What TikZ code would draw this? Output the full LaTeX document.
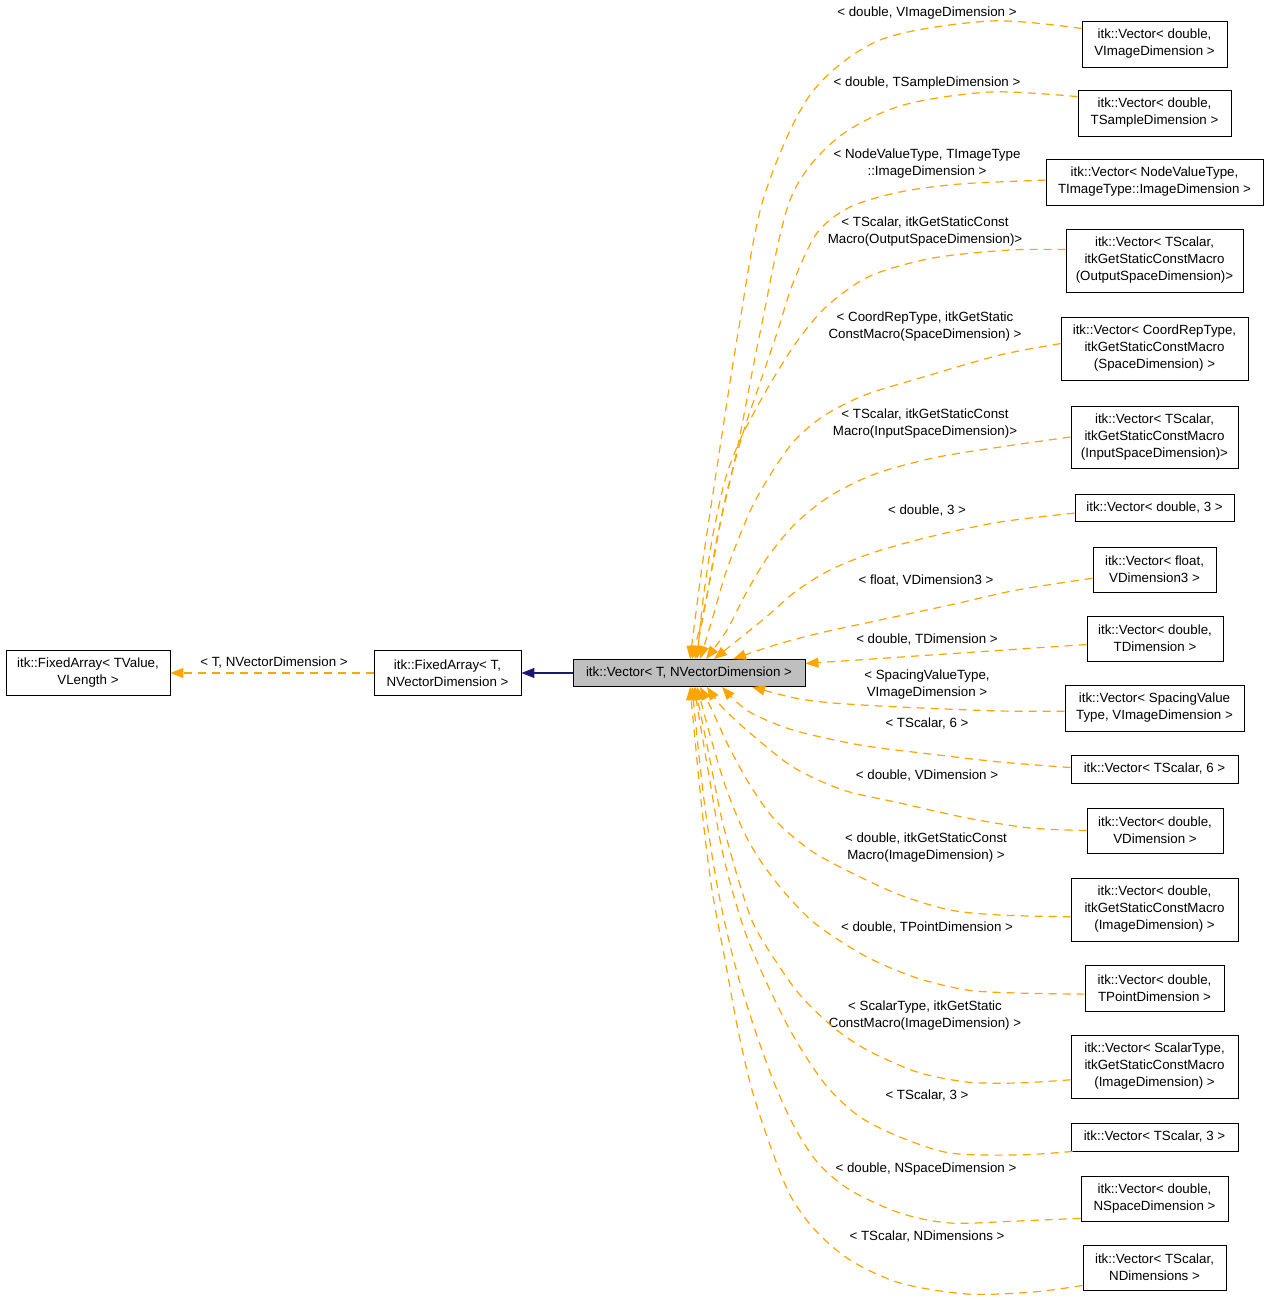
\documentclass[tikz,border=0pt]{standalone}
\usepackage{fontspec}
\setmainfont{Liberation Sans}
\usetikzlibrary{arrows.meta}
\definecolor{edgeorange}{HTML}{FFA500}
\definecolor{inhblue}{HTML}{191970}
\definecolor{focusgray}{HTML}{BFBFBF}
\begin{document}
\begin{tikzpicture}[x=1pt,y=-1pt,
  every node/.style={font=\fontsize{13.33}{17}\selectfont},
  cls/.style={draw=black, line width=0.9pt, fill=white, inner sep=0pt, align=center},
  lbl/.style={inner sep=0pt, align=center},
  tip/.style={-{Triangle[length=13pt,width=10pt]}},
  tmpl/.style={draw=edgeorange, line width=1.2pt, dash pattern=on 8pt off 6pt, tip},
  inh/.style={draw=inhblue, line width=1.2pt, tip}]
\fill[white] (0,0) rectangle (1269,1300);
\useasboundingbox (0,0) rectangle (1269,1300);

% left and centre nodes
\node[cls, minimum width=164, minimum height=45] (l1) at (88,673) {itk::FixedArray< TValue,\\VLength >};
\node[cls, minimum width=147, minimum height=45] (l2) at (447.5,673) {itk::FixedArray< T,\\NVectorDimension >};
\node[cls, fill=focusgray, minimum width=232, minimum height=27] (vc) at (689,673) {itk::Vector< T, NVectorDimension >};

% right column
\node[cls, minimum width=145, minimum height=46] (n1) at (1154.5,44) {itk::Vector< double,\\VImageDimension >};
\node[cls, minimum width=153, minimum height=46] (n2) at (1154.5,113) {itk::Vector< double,\\TSampleDimension >};
\node[cls, minimum width=217, minimum height=46] (n3) at (1154.5,182) {itk::Vector< NodeValueType,\\TImageType::ImageDimension >};
\node[cls, minimum width=177, minimum height=63] (n4) at (1154.5,260.5) {itk::Vector< TScalar,\\itkGetStaticConstMacro\\(OutputSpaceDimension)>};
\node[cls, minimum width=187, minimum height=63] (n5) at (1154.5,348.5) {itk::Vector< CoordRepType,\\itkGetStaticConstMacro\\(SpaceDimension) >};
\node[cls, minimum width=167, minimum height=62] (n6) at (1154.5,437) {itk::Vector< TScalar,\\itkGetStaticConstMacro\\(InputSpaceDimension)>};
\node[cls, minimum width=159, minimum height=27] (n7) at (1154.5,507.5) {itk::Vector< double, 3 >};
\node[cls, minimum width=123, minimum height=45] (n8) at (1154.5,569.5) {itk::Vector< float,\\VDimension3 >};
\node[cls, minimum width=136, minimum height=45] (n9) at (1155,638.5) {itk::Vector< double,\\TDimension >};
\node[cls, minimum width=179, minimum height=46] (n10) at (1154.5,708) {itk::Vector< SpacingValue\\Type, VImageDimension >};
\node[cls, minimum width=167, minimum height=28] (n11) at (1154.5,769) {itk::Vector< TScalar, 6 >};
\node[cls, minimum width=136, minimum height=45] (n12) at (1155,830.5) {itk::Vector< double,\\VDimension >};
\node[cls, minimum width=167, minimum height=63] (n13) at (1154.5,909.5) {itk::Vector< double,\\itkGetStaticConstMacro\\(ImageDimension) >};
\node[cls, minimum width=139, minimum height=46] (n14) at (1154.5,988) {itk::Vector< double,\\TPointDimension >};
\node[cls, minimum width=167, minimum height=63] (n15) at (1154.5,1066.5) {itk::Vector< ScalarType,\\itkGetStaticConstMacro\\(ImageDimension) >};
\node[cls, minimum width=167, minimum height=28] (n16) at (1154.5,1137) {itk::Vector< TScalar, 3 >};
\node[cls, minimum width=147, minimum height=45] (n17) at (1154.5,1198.5) {itk::Vector< double,\\NSpaceDimension >};
\node[cls, minimum width=143, minimum height=45] (n18) at (1154.5,1267.5) {itk::Vector< TScalar,\\NDimensions >};

% edge labels
\node[lbl] (la) at (927,13) {< double, VImageDimension >};
\node[lbl] (lb) at (927,83) {< double, TSampleDimension >};
\node[lbl] (lc) at (927,163.5) {< NodeValueType, TImageType\\::ImageDimension >};
\node[lbl] (ld) at (925,232) {< TScalar, itkGetStaticConst\\Macro(OutputSpaceDimension)>};
\node[lbl] (le) at (925,327) {< CoordRepType, itkGetStatic\\ConstMacro(SpaceDimension) >};
\node[lbl] (lf) at (925,423.5) {< TScalar, itkGetStaticConst\\Macro(InputSpaceDimension)>};
\node[lbl] (lg) at (927,511) {< double, 3 >};
\node[lbl] (lh) at (926,581) {< float, VDimension3 >};
\node[lbl] (li) at (927,640) {< double, TDimension >};
\node[lbl] (lj) at (927,685) {< SpacingValueType,\\VImageDimension >};
\node[lbl] (lk) at (927,724) {< TScalar, 6 >};
\node[lbl] (ll) at (927,776) {< double, VDimension >};
\node[lbl] (lm) at (926,848) {< double, itkGetStaticConst\\Macro(ImageDimension) >};
\node[lbl] (ln) at (927,928) {< double, TPointDimension >};
\node[lbl] (lo) at (925,1015.5) {< ScalarType, itkGetStatic\\ConstMacro(ImageDimension) >};
\node[lbl] (lp) at (927,1096) {< TScalar, 3 >};
\node[lbl] (lq) at (926,1169) {< double, NSpaceDimension >};
\node[lbl] (lr) at (927,1237) {< TScalar, NDimensions >};
\node[lbl] (ls) at (274,663) {< T, NVectorDimension >};

% arrow end points on the centre node
\coordinate (t1) at ([xshift=1pt]vc.north);
\coordinate (t2) at ([xshift=3pt]vc.north);
\coordinate (t3) at ([xshift=6pt]vc.north);
\coordinate (t4) at ([xshift=8pt]vc.north);
\coordinate (t5) at ([xshift=11pt]vc.north);
\coordinate (t6) at ([xshift=17pt]vc.north);
\coordinate (t7) at ([xshift=25pt]vc.north);
\coordinate (t8) at ([xshift=44pt]vc.north);
\coordinate (t9) at ([yshift=9.5pt]vc.east);
\coordinate (t10) at ([xshift=63pt]vc.south);
\coordinate (t11) at ([xshift=33pt]vc.south);
\coordinate (t12) at ([xshift=18pt]vc.south);
\coordinate (t13) at ([xshift=11pt]vc.south);
\coordinate (t14) at ([xshift=8pt]vc.south);
\coordinate (t15) at ([xshift=6pt]vc.south);
\coordinate (t16) at ([xshift=5pt]vc.south);
\coordinate (t17) at ([xshift=3pt]vc.south);
\coordinate (t18) at ([xshift=1pt]vc.south);

% edges
\draw[inh] (vc.west) -- (l2.east);
\draw[tmpl] (l2.west) -- (l1.east);

\draw[tmpl] plot[smooth] coordinates {(n1.168) (990,21) (880,40) (810,95) (763,200) (738,333) (717,467) (702,567) (t1)};
\draw[tmpl] plot[smooth] coordinates {(n2.168) (990,92) (900,106) (835,140) (790,200) (760,333) (737,450) (718,533) (706,600) (t2)};
\draw[tmpl] plot[smooth] coordinates {(n3.179) (960,184) (900,192) (850,207) (817,233) (793,283) (777,333) (760,383) (743,433) (725,500) (710,580) (t3)};
\draw[tmpl] plot[smooth] coordinates {(n4.173) (1010,250) (933,258) (870,276) (827,306) (798,340) (776,374) (757,407) (740,440) (725,480) (712,540) (703,600) (t4)};
\draw[tmpl] plot[smooth] coordinates {(n5.177) (1000,355) (920,378) (865,395) (825,415) (795,440) (772,472) (753,505) (738,540) (725,575) (712,620) (t5)};
\draw[tmpl] plot[smooth] coordinates {(n6.180) (1000,447) (933,458) (875,474) (830,496) (795,524) (767,558) (745,595) (727,630) (t6)};
\draw[tmpl] plot[smooth] coordinates {(n7.184) (1000,522) (933,536) (875,552) (830,570) (795,592) (765,618) (t7)};
\draw[tmpl] plot[smooth] coordinates {(n8.188) (1017,590) (950,605) (880,620) (820,633) (775,645) (t8)};
\draw[tmpl] (n9.185) -- (t9);
\draw[tmpl] plot[smooth] coordinates {(n10.182) (1000,711) (900,707) (833,703) (795,698) (t10)};
\draw[tmpl] plot[smooth] coordinates {(n11.179) (1000,762) (930,754) (860,745) (793,730) (748,711) (t11)};
\draw[tmpl] plot[smooth] coordinates {(n12.180) (1030,828) (967,818) (900,803) (843,790) (793,767) (750,733) (722,707) (t12)};
\draw[tmpl] plot[smooth] coordinates {(n13.185) (1000,915) (950,910) (900,895) (850,872) (810,850) (775,820) (750,785) (728,745) (712,710) (t13)};
\draw[tmpl] plot[smooth] coordinates {(n14.185) (1017,993) (967,990) (917,978) (867,957) (817,925) (785,893) (760,860) (743,830) (725,785) (710,735) (t14)};
\draw[tmpl] plot[smooth] coordinates {(n15.189) (1017,1083) (967,1082) (917,1072) (867,1050) (833,1027) (800,995) (775,960) (753,923) (737,875) (722,820) (708,750) (t15)};
\draw[tmpl] plot[smooth] coordinates {(n16.190.6) (1017,1155) (950,1153) (900,1137) (860,1117) (830,1090) (810,1063) (790,1030) (770,990) (750,945) (737,907) (722,850) (708,770) (t16)};
\draw[tmpl] plot[smooth] coordinates {(n17.195) (1017,1221) (950,1223) (900,1213) (850,1190) (818,1163) (795,1128) (775,1085) (755,1030) (735,965) (718,890) (704,800) (t17)};
\draw[tmpl] plot[smooth] coordinates {(n18.194.5) (1033,1292) (967,1294) (900,1283) (850,1260) (815,1230) (790,1195) (770,1145) (752,1090) (738,1030) (725,960) (712,890) (702,810) (t18)};
\end{tikzpicture}
\end{document}
